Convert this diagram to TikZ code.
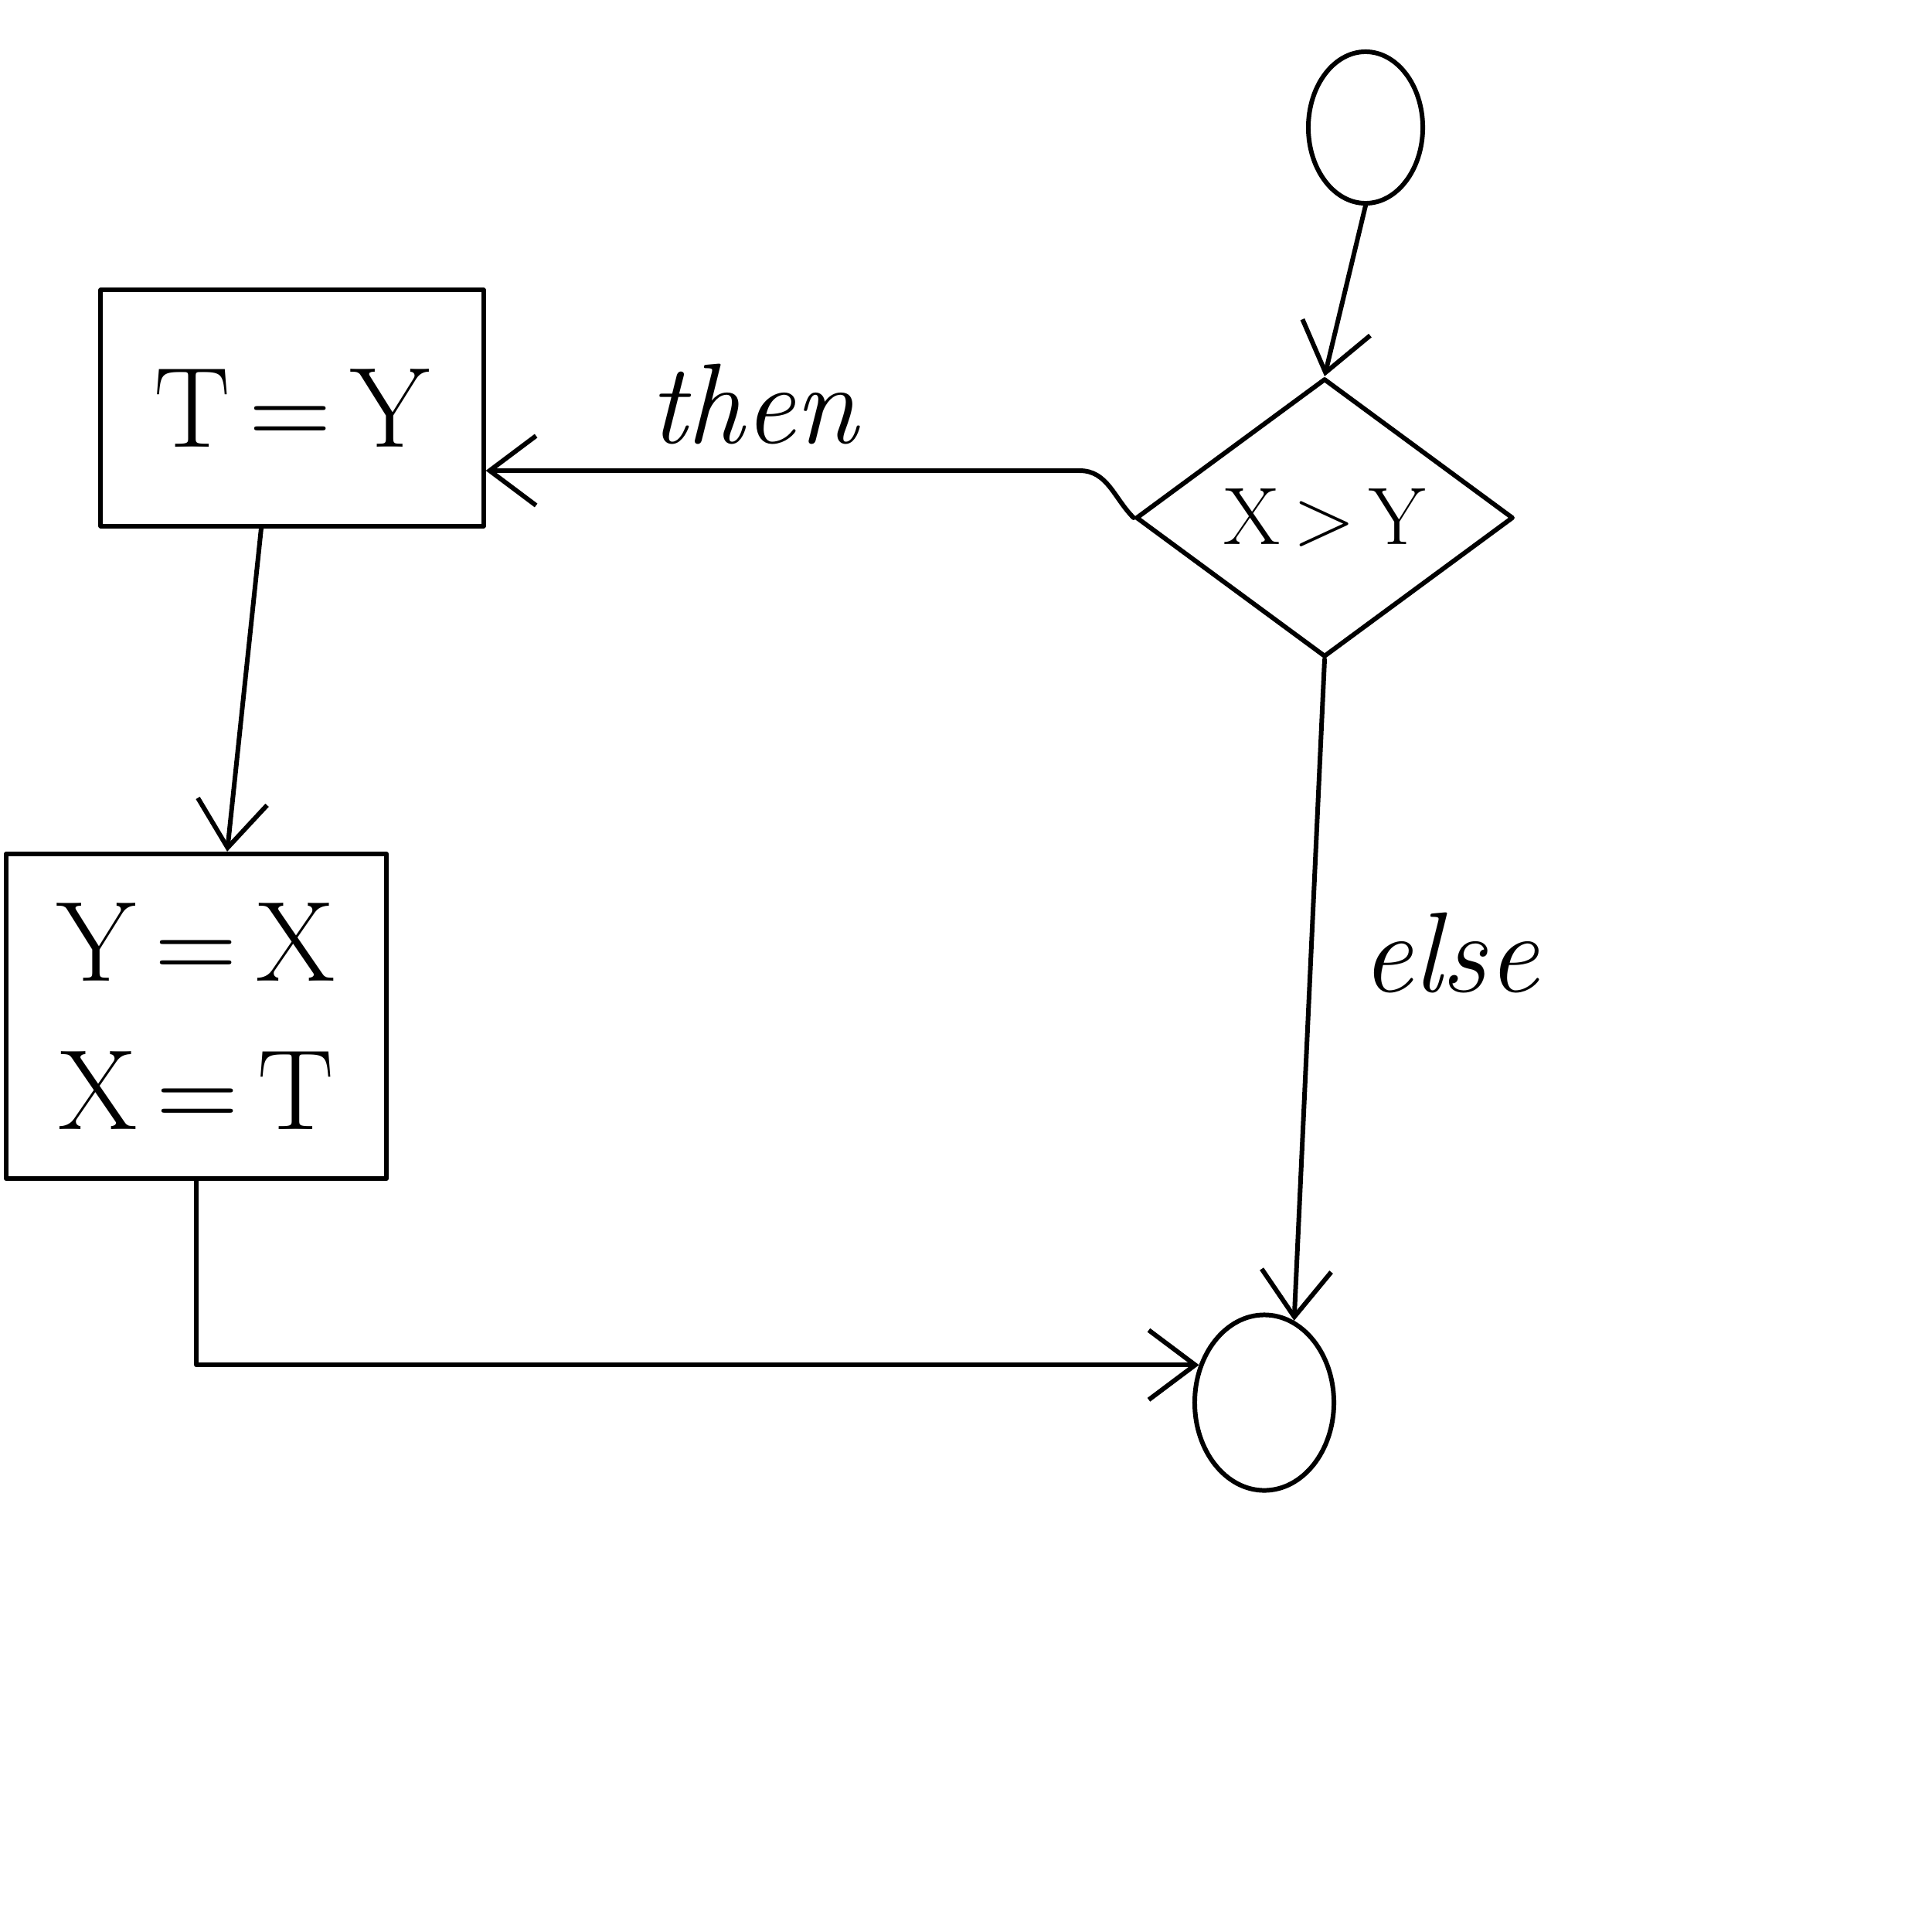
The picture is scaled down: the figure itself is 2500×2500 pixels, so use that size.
\documentclass[tikz,border=0pt]{standalone}
\usepackage{fontspec}
\usetikzlibrary{shapes.geometric,arrows.meta,calc}
\begin{document}
\begin{tikzpicture}[x=0.01cm,y=-0.01cm,
  stroke/.style={line width=1.7pt, line cap=round, line join=round},
  proc/.style={stroke, draw, rectangle, inner sep=0pt},
  term/.style={stroke, draw, ellipse, inner sep=0pt},
  cond/.style={stroke, draw, diamond, inner sep=0pt, aspect=1.36},
  flow/.style={stroke, -{Straight Barb[length=6mm,width=9mm,line width=1.7pt]}},
  big/.style={font=\fontsize{42}{54.6}\selectfont},
  lab/.style={font=\itshape\fontsize{42}{50}\selectfont}]
\useasboundingbox (0,0) rectangle (2500,2500);

% shapes
\node[term, minimum width=1.48cm, minimum height=1.96cm] (start) at (1767,165) {};
\node[cond, minimum width=4.88cm, minimum height=3.6cm, font=\fontsize{30}{36}\selectfont] (test) at (1714,670) {X\,>\,Y};
\node[proc, minimum width=4.95cm, minimum height=3.05cm, big] (tbox) at (378,528) {T\,=\,Y};
\node[proc, minimum width=4.92cm, minimum height=4.2cm, big, align=center] (yx) at (254,1315) {Y\,=\,X\\X\,=\,T};
\node[term, minimum width=1.8cm, minimum height=2.27cm] (end) at (1636,1815) {};

% branch labels
\node[lab] (thenl) at (975,523) {then};
\node[lab] (elsel) at (1876,1233) {else};

% connectors
\coordinate (bend) at ($(test.west)+(-70,-61)$);
\draw[flow] (start.south) -- (test.north);
\draw[flow] (test.west) to[out=135,in=0] (bend) -- (bend -| tbox.east);
\draw[flow] ($(tbox.south)+(-40,0)$) -- ($(yx.north)+(40,0)$);
\draw[flow] (yx.south) |- (end.150);
\draw[flow] (test.south) -- (end.70);
\end{tikzpicture}
\end{document}
